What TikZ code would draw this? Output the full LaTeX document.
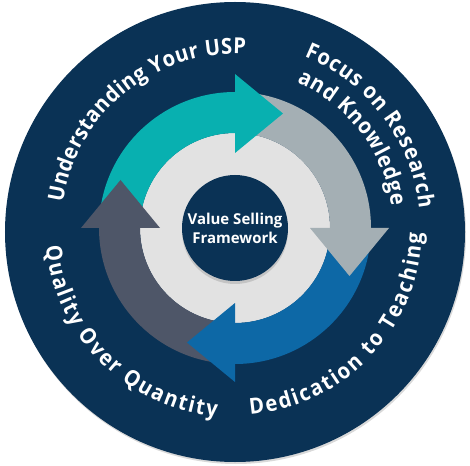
\documentclass[tikz,border=0pt]{standalone}
\usepackage{fontspec}
\newfontfamily\wheelfont{Open Sans}
\newfontfamily\arcfont{Open Sans}[FakeStretch=0.92]
\usetikzlibrary{decorations.text, shadows}
\definecolor{navy}{RGB}{10,50,85}
\definecolor{ringgray}{RGB}{226,226,226}
\definecolor{tealarrow}{RGB}{8,176,176}
\definecolor{grayarrow}{RGB}{164,175,180}
\definecolor{bluearrow}{RGB}{13,104,166}
\definecolor{slatearrow}{RGB}{78,86,104}
\begin{document}
\begin{tikzpicture}[
						disc/.style = {fill=navy, drop shadow={shadow xshift=1pt, shadow yshift=-2pt, opacity=.3}},
						hub/.style = {circle, fill=navy, inner sep=0pt, minimum size=106pt, text=white, align=center,
							font=\wheelfont\bfseries\fontsize{15}{19}\selectfont,
							drop shadow={shadow xshift=0pt, shadow yshift=-3pt, opacity=.3}},
						curved/.style = {decorate, decoration={text along path, text color=white, text align={fit to path},
							text={|\arcfont\bfseries\fontsize{22}{22}\selectfont|#1}}}
					]
\useasboundingbox (-235pt,-237pt) rectangle (235pt,228pt);
\fill[disc] (0pt,-4pt) circle[radius=230pt];
\fill[ringgray] (0pt,0pt) circle[radius=95pt];

\foreach \base/\col in {90/tealarrow, 0/grayarrow, 270/bluearrow, 180/slatearrow}
	\fill[\col] (\base:95pt) arc[start angle=\base, end angle=\base+82, radius=95pt]
		-- ({\base+82}:136pt) arc[start angle=\base+82, end angle=\base, radius=136pt] -- cycle;
\foreach \base/\col in {90/tealarrow, 0/grayarrow, 270/bluearrow, 180/slatearrow}
	\fill[\col, rotate=\base] (75pt,0pt) -- (154pt,0pt) -- (114.5pt,-48pt) -- cycle;

\node[hub] (hub) at (0pt,0pt) {Value Selling\\Framework};

\path[curved={Understanding Your USP}] (171.5:174pt) arc[start angle=171.5, end angle=86.5, radius=174pt];
\path[curved={Focus on Research}] (68:185pt) arc[start angle=68, end angle=6, radius=185pt];
\path[curved={and Knowledge}] (67:158pt) arc[start angle=67, end angle=8, radius=158pt];
\path[curved={Dedication to Teaching}] (-85.4:187pt) arc[start angle=-85.4, end angle=-1.5, radius=187pt];
\path[curved={Quality Over Quantity}] (185.6:190pt) arc[start angle=185.6, end angle=264.5, radius=190pt];
\end{tikzpicture}
\end{document}
